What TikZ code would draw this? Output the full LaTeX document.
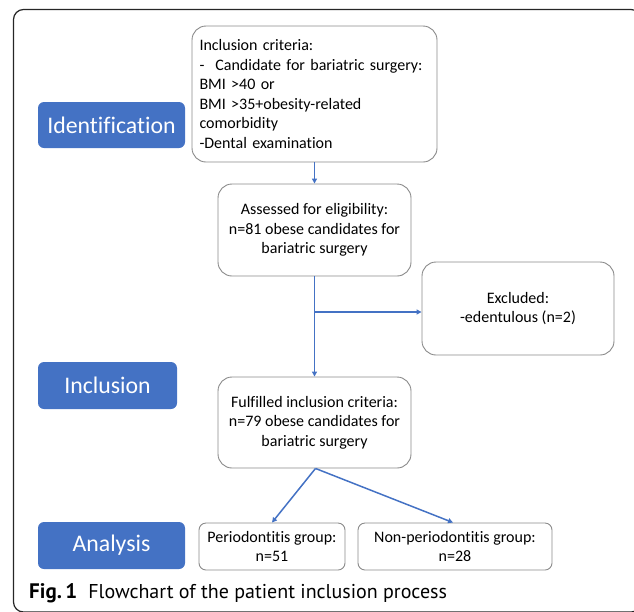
\documentclass[tikz,border=0pt]{standalone}
\usepackage{fontspec}
\setmainfont{Carlito}[Ligatures={NoCommon}]
\newfontfamily\capfont{PT Sans}
\usetikzlibrary{arrows.meta}
\definecolor{flowblue}{HTML}{4472C4}
\definecolor{boxgray}{HTML}{8A8A8A}
\tikzset{
  bigbox/.style={draw=boxgray, line width=0.9pt, rounded corners=14pt, fill=white, inner sep=0pt, align=center,
     font=\fontsize{16}{19.4}\selectfont},
  smallbox/.style={draw=boxgray, line width=0.9pt, rounded corners=7pt, fill=white, inner sep=0pt, align=center,
     font=\fontsize{16}{19.4}\selectfont},
  stagebox/.style={fill=flowblue, rounded corners=6pt, inner sep=0pt, text=white,
     font=\fontsize{23.8}{27}\selectfont},
  conn/.style={draw=flowblue, line width=1.5pt, -{Triangle[length=5pt,width=5pt]}}
}
\begin{document}
\begin{tikzpicture}[x=1pt,y=-1pt]
\useasboundingbox (0,0) rectangle (634,611);
% outer frame
\draw[line width=1.2pt, rounded corners=10pt, draw=black!85] (13.5,9.5) rectangle (641,612);

% stage labels
\node[stagebox, minimum width=147pt, minimum height=46pt] (ident) at (111.5,125) {Identification};
\node[stagebox, minimum width=139pt, minimum height=47pt] (incl) at (107.5,385.5) {Inclusion};
\node[stagebox, minimum width=147pt, minimum height=47pt] (anal) at (111.5,545.5) {Analysis};

% boxes
\node[bigbox, minimum width=245pt, minimum height=136pt, text width=230pt, align=left] (crit) at (314.5,94)
  {Inclusion criteria:\\-\hspace{11pt}Candidate for bariatric surgery:\\BMI {>}40 or\\BMI {>}35+obesity-related\\comorbidity\\-Dental examination};
\node[bigbox, minimum width=193pt, minimum height=92pt] (assess) at (314.5,230)
  {Assessed for eligibility:\\n=81 obese candidates for\\bariatric surgery};
\node[bigbox, minimum width=192pt, minimum height=93pt] (excl) at (518,308.5)
  {Excluded:\\-edentulous (n=2)};
\node[bigbox, minimum width=193pt, minimum height=91pt] (fulf) at (314.5,422.5)
  {Fulfilled inclusion criteria:\\n=79 obese candidates for\\bariatric surgery};
\node[smallbox, minimum width=146pt, minimum height=47pt] (perio) at (272,546.5)
  {Periodontitis group:\\n=51};
\node[smallbox, minimum width=194pt, minimum height=47pt] (nonperio) at (455,546.5)
  {Non-periodontitis group:\\n=28};

% connectors
\draw[conn] (crit.south) -- (assess.north);
\draw[conn] (assess.south) -- (fulf.north);
\coordinate (br) at (314.5,312);
\draw[conn] (br) -- (br -| excl.west);
\coordinate (fan) at ([xshift=1pt]fulf.south);
\draw[conn] (fan) -- (perio.north);
\draw[conn] (fan) -- ([xshift=-2pt]nonperio.north);

% caption
\node[anchor=base west, inner sep=0pt, font=\capfont\fontsize{20}{24}\selectfont] (cap) at (29,598)
  {\textbf{\fontsize{21}{24}\selectfont Fig.\,1}\hspace{11pt}Flowchart of the patient inclusion process};
\end{tikzpicture}
\end{document}
